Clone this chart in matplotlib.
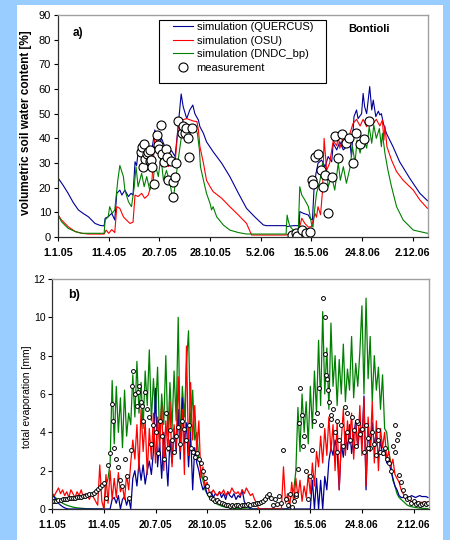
import numpy as np
import matplotlib
matplotlib.use("Agg")
import matplotlib.pyplot as plt
from matplotlib.patches import Rectangle

plt.rcParams['font.family'] = ['Liberation Sans', 'DejaVu Sans']

# x axis: days since 1.1.05
tick_days = [0, 100, 200, 300, 400, 500, 600, 700]
tick_labels = ['1.1.05', '11.4.05', '20.7.05', '28.10.05', '5.2.06', '16.5.06', '24.8.06', '2.12.06']

# ---- panel a) volumetric soil water content [%]
quercus_a_day = [0, 10, 20, 30, 40, 50, 60, 73, 83, 91,
                 93, 99, 106, 112, 116, 122, 126, 132, 139, 144,
                 148, 152, 155, 158, 165, 171, 178, 185, 191, 195,
                 201, 204, 211, 218, 224, 231, 237, 243, 247, 254,
                 260, 266, 270, 277, 280, 287, 293, 306, 323, 339,
                 356, 372, 388, 405, 411, 450, 451, 464, 476, 477,
                 484, 494, 497, 502, 505, 509, 513, 520, 527, 533,
                 540, 543, 550, 556, 563, 569, 576, 579, 584, 589,
                 592, 599, 602, 605, 609, 612, 615, 619, 622, 627,
                 632, 635, 638, 642, 648, 661, 674, 694, 714, 729]
quercus_a = [24, 21, 17.7, 14, 11, 9.5, 8.2, 5.5, 4.7, 4.5,
             7.6, 8.2, 9.6, 6.9, 17.7, 19, 17, 19, 16.4, 17.7,
             17, 30.5, 29, 34, 34.6, 36, 35.3, 35, 43.4, 41,
             38, 40, 36.6, 34, 35, 32.6, 44.7, 58, 52.8, 48,
             51.5, 53.5, 50, 47.4, 44.7, 42, 38.6, 34.6, 29.9, 24.5,
             17.7, 11.6, 8.2, 4.9, 4.6, 4.6, 4.2, 4.6, 4.6, 10.3,
             9.6, 8.9, 7.6, 6.9, 19, 25.8, 29.9, 31.2, 28.5, 32.6,
             30.5, 38, 35.3, 38.6, 35.3, 36.6, 38, 32.6, 48.8, 51.5,
             48, 50, 58.2, 52.8, 50, 55.5, 61, 51.5, 55.5, 48.8,
             51, 49.5, 50, 46, 42, 36.6, 30.5, 23.8, 17.7, 14.7]

osu_a_day = [0, 7, 20, 34, 47, 60, 91, 95, 100, 106,
             112, 116, 122, 129, 135, 142, 148, 152, 158, 165,
             171, 178, 185, 191, 198, 204, 211, 218, 224, 231,
             237, 244, 254, 267, 274, 277, 280, 287, 293, 300,
             306, 323, 339, 356, 372, 379, 382, 450, 458, 466,
             474, 477, 481, 487, 494, 500, 507, 510, 513, 518,
             522, 525, 530, 536, 543, 550, 553, 556, 563, 569,
             576, 582, 589, 596, 602, 609, 615, 622, 628, 635,
             640, 643, 645, 649, 658, 668, 681, 701, 714, 729]
osu_a = [9, 6.9, 4.2, 2.2, 1.5, 1.2, 1.2, 2.8, 1.5, 3,
         1.8, 12.3, 11.6, 8.2, 6.9, 5.5, 6, 17, 16.4, 17.7,
         15.7, 17, 22, 40, 38, 36.6, 32.6, 28.5, 31, 30,
         44.7, 47.4, 48, 47, 46.8, 43.4, 36.6, 29.9, 23, 20.4,
         18.4, 15.7, 12.3, 8.9, 5.5, 2.2, 0.8, 0.8, 1.5, 2.5,
         2.2, 4.2, 7.6, 5.5, 4, 4.2, 9.6, 8, 12.3, 9,
         19, 40, 27, 30, 39, 37, 41, 36, 40.7, 38,
         42, 46, 47.7, 45, 47.7, 44.7, 47.4, 46, 47.7, 45,
         47.4, 39.3, 45, 36.6, 31.2, 26.5, 23, 19, 15, 11.6]

dndc_a_day = [0, 7, 20, 34, 47, 91, 93, 99, 102, 107,
              112, 118, 122, 129, 132, 139, 145, 150, 154, 158,
              165, 170, 175, 181, 188, 191, 198, 203, 208, 214,
              221, 227, 232, 237, 243, 247, 250, 257, 264, 270,
              275, 279, 281, 287, 293, 300, 303, 306, 313, 326,
              339, 356, 372, 450, 452, 455, 458, 464, 474, 477,
              481, 487, 494, 500, 503, 507, 510, 517, 522, 527,
              530, 533, 540, 546, 553, 557, 563, 569, 576, 581,
              586, 590, 596, 602, 609, 614, 619, 623, 628, 634,
              638, 640, 645, 651, 658, 668, 681, 701, 729]
dndc_a = [8.9, 6.2, 3.5, 2.2, 1.5, 1.5, 6.9, 8.2, 12.3, 9.6,
          11, 23, 29, 24.5, 19, 14.3, 12.3, 19.7, 28.5, 20.4,
          25.8, 20.4, 24.5, 19, 23, 30, 24.5, 32.6, 23, 27,
          21.8, 14.3, 23, 31, 40, 43.4, 44.7, 40.7, 44.7, 45.4,
          42, 35.3, 28.5, 23, 17.7, 13.6, 11, 12.3, 8.2, 4.9,
          2.8, 1.8, 1.2, 1.2, 8.9, 6, 4.2, 2.8, 2.2, 20.4,
          17, 15, 12.3, 5.5, 4, 12.3, 17.7, 23, 30, 24.5,
          27, 20.4, 24.5, 19, 30, 23, 28.5, 21.8, 28, 36.6,
          30, 39.3, 34, 41, 36, 44.7, 38, 45.4, 40, 44,
          36.6, 42, 34, 27, 20.4, 12.3, 6.9, 2.8, 1.5]

meas_a_day = [163, 166, 167, 169, 171, 175, 178, 181, 182, 184,
              186, 189, 196, 198, 200, 204, 206, 209, 213, 215,
              217, 222, 226, 227, 230, 232, 237, 244, 247, 250,
              253, 257, 259, 265,
              462, 469, 472, 482, 490, 498, 501, 504, 508, 513,
              518, 523, 526, 532, 540, 546, 552, 561, 569, 575,
              583, 588, 595, 603, 613]
meas_a = [34.5, 36.5, 28.4, 37.9, 31.8, 33.8, 34.5, 35.2, 31, 31.4,
          28.4, 21.6, 41.3, 37.2, 35.5, 45.3, 33.8, 30.4, 35.5, 32.5,
          23, 30.9, 22.3, 16.2, 24.4, 30, 47.1, 42, 44.9, 42,
          44, 40.2, 32.5, 44,
          0.7, 1.6, 0.3, 3, 1.6, 1.9, 23.3, 21.4, 32.5, 33.8,
          27, 20.3, 25, 9.7, 24.4, 40.9, 32.2, 41.9, 38.2, 40.2,
          30, 42.2, 37.6, 39.9, 47.1]

# ---- panel b) total evaporation [mm], every 4th day
days_b = np.arange(0, 729, 4)
quercus_b = [0.75, 0.6, 0.45, 0.3, 0.2, 0.12, 0.06, 0.02, 0, 0,
             0, 0, 0, 0, 0, 0, 0, 0, 0, 0,
             0, 0, 0, 0, 0, 0, 0, 0, 0, 0.5,
             0.6, 0.3, 0.7, 0, 0.5, 0.65, 0.2, 0.6, 0, 1.6,
             2.0, 1.2, 2.4, 1.5, 2.3, 1.3, 2.0, 2.5, 1.8, 3.0,
             6.3, 2.2, 3.5, 1.6, 4.0, 2.8, 1.2, 3.6, 2.4, 4.2,
             3.0, 5.2, 2.6, 5.8, 3.4, 4.5, 2.2, 4.0, 1.0, 3.2,
             2.4, 2.0, 1.4, 1.0, 1.2, 0.8, 0.7, 0.9, 0.6, 0.8,
             0.7, 0.9, 0.6, 0.8, 0.5, 0.9, 0.7, 0.6, 0.8, 0.5,
             0.7, 0.6, 1.0, 0.4, 0.2, 0.1, 0, 0, 0, 0,
             0, 0, 0, 0, 0, 0, 0, 0, 0, 0,
             0, 0, 0, 0, 0, 0, 0, 0, 0, 0,
             0, 0, 0, 0, 0, 0, 1.5, 0, 1.6, 0,
             1.5, 0, 1.7, 1.0, 2.5, 3.2, 2.8, 3.6, 3.0, 1.0,
             3.4, 2.7, 4.0, 3.1, 4.4, 2.9, 3.8, 4.6, 3.2, 4.2,
             3.5, 5.9, 1.0, 4.2, 3.0, 4.5, 3.3, 4.0, 2.6, 3.6,
             2.8, 3.2, 2.4, 2.6, 2.0, 1.6, 1.2, 1.0, 0.7, 0.6,
             0.6, 0.7, 0.65, 0.6, 0.7, 0.65, 0.6, 0.65, 0.7, 0.65,
             0.65, 0.65, 0.6]
osu_b = [0.8, 0.7, 0.9, 1.1, 0.8, 1.0, 0.7, 0.9, 0.6, 1.0,
         0.8, 0.6, 0.9, 0.7, 1.0, 0.6, 0.8, 0.7, 0.5, 0.8,
         0.6, 0.4, 0.2, 2.3, 0.4, 0, 1.8, 0.3, 2.0, 0.5,
         1.6, 0.6, 1.9, 0.9, 1.2, 0.5, 1.8, 1.0, 2.4, 3.6,
         2.6, 4.4, 2.0, 5.2, 3.0, 4.6, 1.8, 4.2, 2.6, 5.0,
         2.4, 4.8, 3.2, 5.4, 2.0, 4.6, 3.0, 5.6, 2.2, 4.4,
         3.2, 6.9, 3.0, 5.2, 1.8, 8.5, 2.8, 6.6, 3.6, 5.4,
         3.0, 4.6, 1.6, 2.2, 1.2, 1.4, 0.9, 0.8, 1.0, 0.8,
         0.7, 0.9, 0.8, 1.0, 0.7, 0.9, 0.8, 1.1, 0.9, 0.8,
         0.9, 0.7, 1.0, 0.8, 1.1, 0.9, 0.7, 0.8, 0.5, 0.3,
         0, 0, 0, 0, 0, 0, 0, 0, 0, 0,
         0, 0, 2.2, 0.3, 0.8, 0.1, 1.4, 0.3, 1.6, 0.6,
         1.5, 0.4, 1.2, 0.6, 1.8, 0.8, 2.4, 1.2, 3.0, 2.2,
         3.8, 2.4, 4.2, 2.8, 4.8, 3.0, 4.4, 2.0, 4.6, 1.0,
         3.6, 5.2, 2.8, 4.6, 3.4, 5.0, 2.6, 4.4, 3.2, 5.4,
         2.8, 5.8, 1.2, 4.8, 3.0, 5.6, 2.4, 4.6, 2.0, 4.2,
         3.2, 4.0, 2.6, 3.0, 2.2, 2.6, 1.8, 1.6, 1.4, 1.0,
         0.8, 0.6, 0.5, 0.45, 0.4, 0.4, 0.4, 0.35, 0.35, 0.35,
         0.35, 0.35, 0.35]
dndc_b = [0.8, 0.65, 0.55, 0.45, 0.38, 0.3, 0.25, 0.2, 0.16, 0.13,
          0.1, 0.08, 0.06, 0.05, 0.04, 0.03, 0.02, 0.02, 0.01, 0.01,
          0, 0, 0, 0, 0, 0, 1.2, 1.6, 2.4, 6.7,
          3.4, 6.4, 4.0, 5.8, 3.2, 6.2, 3.8, 5.0, 4.4, 7.0,
          4.8, 7.7, 5.0, 6.6, 4.2, 7.2, 5.4, 8.3, 4.6, 6.8,
          5.0, 7.4, 3.6, 6.0, 4.4, 8.0, 3.8, 6.6, 4.2, 7.2,
          4.6, 10.0, 3.4, 6.4, 4.8, 7.6, 9.3, 4.0, 6.2, 3.6,
          4.0, 2.6, 2.0, 1.5, 1.0, 0.8, 0.6, 0.5, 0.4, 0.3,
          0.25, 0.2, 0.15, 0.12, 0.1, 0.08, 0.06, 0.05, 0.04, 0.03,
          0.02, 0.02, 0.01, 0.01, 0, 0, 0, 0, 0, 0,
          0, 0, 0, 0, 0, 0, 0, 0, 0, 0,
          0, 0, 0, 0, 0, 0.4, 0.8, 1.0, 2.0, 5.3,
          3.0, 6.0, 4.0, 5.6, 3.4, 6.4, 4.2, 7.2, 5.0, 8.8,
          5.4, 10.3, 6.0, 8.4, 5.2, 9.7, 6.4, 8.0, 5.4, 7.8,
          6.0, 8.6, 5.6, 7.3, 6.2, 9.0, 5.8, 7.6, 6.4, 8.2,
          10.6, 6.0, 11.0, 6.8, 9.0, 5.6, 8.0, 6.2, 7.4, 5.2,
          7.0, 4.2, 4.0, 3.0, 2.4, 1.5, 1.2, 0.8, 0.6, 0.5,
          0.4, 0.3, 0.2, 0.15, 0.12, 0.1, 0.08, 0.06, 0.05, 0.04,
          0.03, 0.03, 0.02]
meas_b = [0.4, 0.42, 0.44, 0.46, 0.48, 0.5, 0.52, 0.54, 0.55, 0.57,
          0.58, 0.6, 0.61, 0.63, 0.65, 0.67, 0.7, 0.72, 0.76, 0.8,
          0.86, 0.95, 1.05, 1.15, 1.25, 1.35, 0.55, 2.3, 2.9, 5.5,
          3.2, 2.6, 2.2, 1.5, 1.2, 2.6, 1.7, 0.6, 3.1, 7.2,
          6.0, 5.4, 6.4, 5.6, 4.6, 6.1, 5.2, 4.8, 3.4, 4.4,
          4.0, 2.9, 4.6, 3.8, 2.6, 5.0, 3.2, 4.1, 3.6, 3.0,
          3.8, 4.3, 3.4, 4.6, 4.2, 3.6, 4.4, 3.2, 3.0, 2.7,
          2.9, 2.6, 2.4, 2.0, 1.6, 1.2, 0.8, 0.6, 0.5, 0.4,
          0.45, 0.35, 0.3, 0.25, 0.2, 0.2, 0.18, 0.2, 0.18, 0.2,
          0.2, 0.18, 0.2, 0.22, 0.2, 0.25, 0.22, 0.25, 0.28, 0.3,
          0.3, 0.35, 0.4, 0.5, 0.7, 0.8, 0.55, 0.2, 0.5, 0.25,
          0.7, 0.3, 3.1, 0.5, 0.2, 0.8, 0.1, 0.4, 0.7, 2.1,
          6.3, 4.9, 3.8, 2.0, 0.5, 1.7, 3.1, 4.6, 5.0, 6.3,
          4.4, 11.0, 8.1, 6.8, 5.6, 4.7, 5.2, 4.0, 4.6, 3.6,
          4.4, 3.3, 5.3, 4.0, 3.6, 4.8, 4.1, 3.3, 4.5, 3.9,
          4.2, 3.0, 4.4, 3.7, 3.2, 4.0, 3.4, 2.8, 3.6, 3.0,
          2.9, 3.2, 2.6, 2.4, 2.0, 3.3, 4.4, 3.6, 1.8, 1.4,
          1.0, 0.7, 0.5, 0.6, 0.3, 0.4, 0.25, 0.3, 0.2, 0.25,
          0.3, 0.25, 0.3]
meas_b_extra_day = [118, 154, 166, 174, 472, 478, 486, 529, 531, 535, 541, 551, 571, 591, 611, 631, 664, 670]
meas_b_extra = [4.6, 6.4, 6.1, 5.4, 0.8, 4.5, 3.3, 10.0, 7.0, 6.2, 4.9, 3.0, 5.0, 4.6, 3.2, 4.1, 3.0, 3.9]

c_blue = '#000099'
c_red = '#ff0000'
c_green = '#008000'

fig = plt.figure(figsize=(4.5, 5.4), dpi=100, facecolor='#99ccff')
fig.patches.append(Rectangle((17 / 450, 0), 426 / 450, 535 / 540, transform=fig.transFigure,
                             facecolor='white', edgecolor='none', zorder=-10))

ax1 = fig.add_axes([58 / 450, 1 - 237 / 540, 370 / 450, 222 / 540])
ax2 = fig.add_axes([52.3 / 450, 1 - 509 / 540, 376.7 / 450, 230 / 540])

# panel a
ax1.plot(quercus_a_day, quercus_a, color=c_blue, lw=0.8, label='simulation (QUERCUS)')
ax1.plot(osu_a_day, osu_a, color=c_red, lw=0.8, label='simulation (OSU)')
ax1.plot(dndc_a_day, dndc_a, color=c_green, lw=0.8, label='simulation (DNDC_bp)')
ax1.plot(meas_a_day, meas_a, 'o', ms=6.5, mfc='white', mec='black', mew=0.8, label='measurement')
ax1.set_xlim(0, 730)
ax1.set_ylim(0, 90)
ax1.set_yticks(range(0, 91, 10))
ax1.set_ylabel('volumetric soil water content [%]', fontsize=8.5, fontweight='bold')
ax1.yaxis.set_label_coords(-0.07, 0.516)
ax1.text(0.04, 0.92, 'a)', transform=ax1.transAxes, fontsize=8.5, fontweight='bold', va='center')
ax1.text(0.784, 0.936, 'Bontioli', transform=ax1.transAxes, fontsize=8, fontweight='bold', va='center')
# legend frame drawn separately so the padding matches the original box
ax1.add_patch(Rectangle((0.273, 0.694), 0.451, 0.283, transform=ax1.transAxes,
                        facecolor='white', edgecolor='black', lw=0.8, zorder=4))
leg = ax1.legend(loc='upper left', bbox_to_anchor=(0.312, 0.968), fontsize=8, frameon=False,
                 handlelength=1.8, handletextpad=0.3, labelspacing=0.32,
                 borderpad=0, borderaxespad=0)
leg.set_zorder(5)

# panel b
ax2.plot(days_b, dndc_b, color=c_green, lw=0.9)
ax2.plot(days_b, quercus_b, color=c_blue, lw=0.9)
ax2.plot(days_b, osu_b, color=c_red, lw=0.9)
ax2.plot(days_b, meas_b, 'o', ms=2.8, mfc='white', mec='black', mew=0.7)
ax2.plot(meas_b_extra_day, meas_b_extra, 'o', ms=2.8, mfc='white', mec='black', mew=0.7)
ax2.set_xlim(0, 730)
ax2.set_ylim(0, 12)
ax2.set_yticks(range(0, 13, 2))
ax2.set_ylabel('total evaporation [mm]', fontsize=7.5)
ax2.yaxis.set_label_coords(-0.054, 0.487)
ax2.text(0.042, 0.93, 'b)', transform=ax2.transAxes, fontsize=9, fontweight='bold', va='center')

for ax, fs in ((ax1, 7.7), (ax2, 7.2)):
    ax.set_xticks(tick_days)
    ax.set_xticklabels(tick_labels, fontsize=fs, fontweight='bold')
    ax.tick_params(axis='y', labelsize=8 if ax is ax1 else 7.5, direction='out', length=3, width=0.8, pad=2)
    ax.tick_params(axis='x', direction='out', length=3, width=0.8, pad=5)
    for s in ('top', 'right'):
        ax.spines[s].set_color('#a0a0a0')
        ax.spines[s].set_linewidth(1.0)
    for s in ('left', 'bottom'):
        ax.spines[s].set_color('#303030')
        ax.spines[s].set_linewidth(0.9)

fig.savefig('out.png', dpi=100, facecolor=fig.get_facecolor())
